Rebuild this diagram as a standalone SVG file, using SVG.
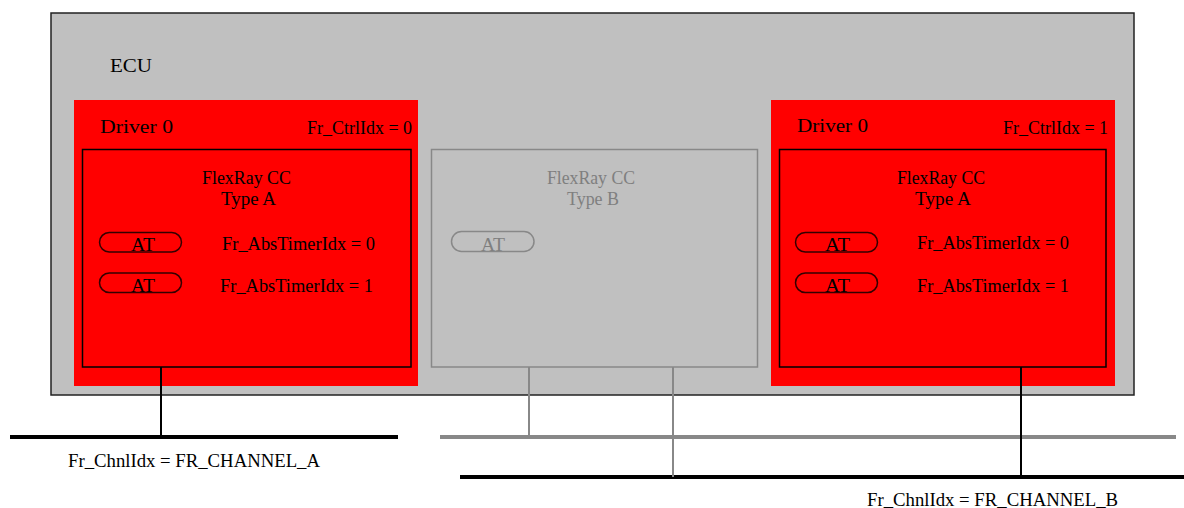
<svg xmlns="http://www.w3.org/2000/svg" width="1184" height="508" viewBox="0 0 1184 508">
<style>
text{font-family:"Liberation Serif","Times New Roman",serif;font-size:18px;fill:#000}
.g{fill:#7f7f7f}
.drv{fill:#ff0000;stroke:none}
.cc{fill:none;stroke:#000;stroke-width:1.5}
.ccb{fill:none;stroke:#888;stroke-width:1.5}
.at{fill:none;stroke:#300;stroke-width:1.5}
.atg{fill:none;stroke:#888;stroke-width:1.5}
.bus{stroke:#000;stroke-width:4;fill:none}
.busg{stroke:#888;stroke-width:4;fill:none}
.stub{stroke:#000;stroke-width:2;fill:none}
.stubg{stroke:#888;stroke-width:2;fill:none}
</style>
<rect width="1184" height="508" fill="#fff"/>
<g id="ecu">
<rect x="51" y="13" width="1083" height="382" fill="#c0c0c0" stroke="#222" stroke-width="1.5"/>
<text x="110" y="72" font-size="21" textLength="42" lengthAdjust="spacingAndGlyphs">ECU</text>
</g>
<g id="driver-left">
<rect class="drv" x="74" y="100" width="344" height="286"/>
<text x="100" y="133" font-size="21" textLength="73" lengthAdjust="spacingAndGlyphs">Driver 0</text>
<text x="307" y="134" textLength="105" lengthAdjust="spacingAndGlyphs">Fr_CtrlIdx = 0</text>
</g>
<g id="cc-left">
<rect class="cc" x="82.5" y="149.5" width="328.5" height="217.5"/>
<text x="202" y="184" textLength="89" lengthAdjust="spacingAndGlyphs">FlexRay CC</text>
<text x="221" y="205" textLength="55" lengthAdjust="spacingAndGlyphs">Type A</text>
</g>
<g id="at-left-0">
<rect class="at" x="99.5" y="232.5" width="82" height="19.5" rx="9.75"/>
<text x="131" y="251" textLength="24" lengthAdjust="spacingAndGlyphs">AT</text>
<text x="222" y="250" textLength="153" lengthAdjust="spacingAndGlyphs">Fr_AbsTimerIdx = 0</text>
</g>
<g id="at-left-1">
<rect class="at" x="99.5" y="273" width="82" height="19.5" rx="9.75"/>
<text x="131" y="292" textLength="24" lengthAdjust="spacingAndGlyphs">AT</text>
<text x="220" y="292" textLength="153" lengthAdjust="spacingAndGlyphs">Fr_AbsTimerIdx = 1</text>
</g>
<g id="cc-middle">
<rect class="ccb" x="431.5" y="149.5" width="326" height="217.5"/>
<text class="g" x="547" y="184" textLength="88" lengthAdjust="spacingAndGlyphs">FlexRay CC</text>
<text class="g" x="567" y="205" textLength="52" lengthAdjust="spacingAndGlyphs">Type B</text>
</g>
<g id="at-middle">
<rect class="atg" x="451.5" y="231.5" width="82.5" height="20" rx="10"/>
<text class="g" x="481" y="251" textLength="24" lengthAdjust="spacingAndGlyphs">AT</text>
</g>
<g id="driver-right">
<rect class="drv" x="771" y="100" width="344" height="286"/>
<text x="797" y="132" font-size="21" textLength="71" lengthAdjust="spacingAndGlyphs">Driver 0</text>
<text x="1003" y="134" textLength="105" lengthAdjust="spacingAndGlyphs">Fr_CtrlIdx = 1</text>
</g>
<g id="cc-right">
<rect class="cc" x="779.5" y="149.5" width="326.5" height="217.5"/>
<text x="897" y="184" textLength="88" lengthAdjust="spacingAndGlyphs">FlexRay CC</text>
<text x="915" y="205" textLength="56" lengthAdjust="spacingAndGlyphs">Type A</text>
</g>
<g id="at-right-0">
<rect class="at" x="795.5" y="232.5" width="82" height="19.5" rx="9.75"/>
<text x="825" y="251" textLength="25" lengthAdjust="spacingAndGlyphs">AT</text>
<text x="917" y="249" textLength="152" lengthAdjust="spacingAndGlyphs">Fr_AbsTimerIdx = 0</text>
</g>
<g id="at-right-1">
<rect class="at" x="795.5" y="273" width="82" height="19.5" rx="9.75"/>
<text x="825" y="292" textLength="25" lengthAdjust="spacingAndGlyphs">AT</text>
<text x="917" y="292" textLength="152" lengthAdjust="spacingAndGlyphs">Fr_AbsTimerIdx = 1</text>
</g>
<g id="connectors">
<line class="bus" x1="10" y1="437" x2="398" y2="437"/>
<line class="busg" x1="440" y1="437" x2="1176" y2="437"/>
<line class="bus" x1="460" y1="477" x2="1184" y2="477"/>
<line class="stub" x1="161" y1="367" x2="161" y2="437"/>
<line class="stubg" x1="529" y1="367" x2="529" y2="437"/>
<line class="stubg" x1="673" y1="367" x2="673" y2="477"/>
<line class="stub" x1="1021" y1="367" x2="1021" y2="477"/>
</g>
<g id="channel-a">
<text x="68" y="467" textLength="252" lengthAdjust="spacingAndGlyphs">Fr_ChnlIdx = FR_CHANNEL_A</text>
</g>
<g id="channel-b">
<text x="867" y="506" textLength="251" lengthAdjust="spacingAndGlyphs">Fr_ChnlIdx = FR_CHANNEL_B</text>
</g>
</svg>
